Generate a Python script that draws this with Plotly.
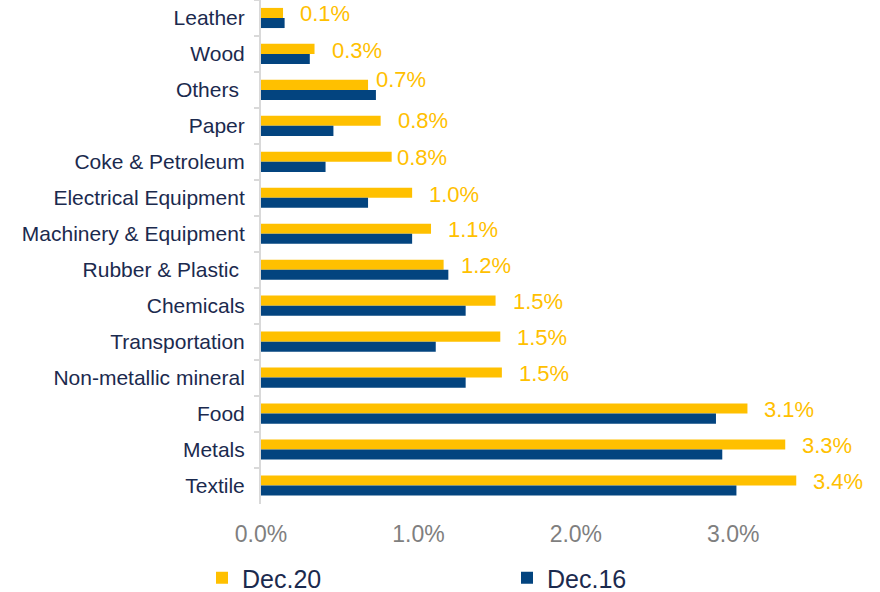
import plotly.graph_objects as go

# Sector shares of total, in percent
categories = [
    "Leather", "Wood", "Others ", "Paper", "Coke & Petroleum",
    "Electrical Equipment", "Machinery & Equipment", "Rubber & Plastic ",
    "Chemicals", "Transportation", "Non-metallic mineral", "Food",
    "Metals", "Textile",
]
dec20 = [0.14, 0.34, 0.68, 0.76, 0.83, 0.96, 1.08, 1.16, 1.49, 1.52, 1.53, 3.09, 3.33, 3.40]
dec16 = [0.15, 0.31, 0.73, 0.46, 0.41, 0.68, 0.96, 1.19, 1.30, 1.11, 1.30, 2.89, 2.93, 3.02]
x_ticks = [0, 1, 2, 3]
series_names = ["Dec.20", "Dec.16"]

# small per-label nudges (px) for the Dec.20 value labels
label_dx = [15, 15, 6, 15, 3, 15, 15, 15, 15, 15, 15, 15, 15, 15]
label_dy = [4, 3, 10, 5, 4, 3, 4, 4, 4, 4, 4, 4, 4, 4]

YELLOW = "#FFC000"
NAVY = "#03447F"
TEXT = "#1B2A4E"
GRAY = "#7F7F7F"
LINE = "#D9D9D9"
FONT = "Liberation Sans, Arial, sans-serif"

fig = go.Figure()
fig.add_trace(go.Bar(
    y=categories, x=[v / 100 for v in dec20], orientation="h",
    name=series_names[0], marker=dict(color=YELLOW, line=dict(width=0)),
    legend="legend",
))
fig.add_trace(go.Bar(
    y=categories, x=[v / 100 for v in dec16], orientation="h",
    name=series_names[1], marker=dict(color=NAVY, line=dict(width=0)),
    legend="legend2",
))

for cat, v, dx, dy in zip(categories, dec20, label_dx, label_dy):
    fig.add_annotation(
        x=v / 100, y=cat, xref="x", yref="y",
        text=f"{v:.1f}%", showarrow=False,
        xanchor="left", yanchor="middle", xshift=dx, yshift=dy,
        font=dict(family=FONT, size=22, color=YELLOW),
    )

legend_style = dict(
    orientation="h", xref="container", yref="container",
    y=14 / 592, xanchor="left", yanchor="middle",
    font=dict(family=FONT, size=25, color=TEXT),
    bgcolor="rgba(0,0,0,0)", borderwidth=0,
)

fig.update_layout(
    width=880, height=592,
    margin=dict(l=261, r=68, t=0, b=88),
    paper_bgcolor="white", plot_bgcolor="white",
    barmode="group", bargap=0.44, bargroupgap=0,
    font=dict(family=FONT, color=TEXT),
    showlegend=True,
    legend=dict(x=202 / 880, **legend_style),
    legend2=dict(x=507 / 880, **legend_style),
    xaxis=dict(
        range=[0, 0.035], tickvals=[t / 100 for t in x_ticks],
        tickformat=".1%", showgrid=False, zeroline=False, showline=False,
        ticks="", ticklabelstandoff=14,
        tickfont=dict(family=FONT, size=23, color=GRAY),
    ),
    yaxis=dict(
        autorange="reversed", type="category",
        showgrid=False, zeroline=False,
        showline=True, linecolor=LINE, linewidth=2,
        ticks="outside", tickson="boundaries", ticklen=5, tickcolor=LINE, tickwidth=1.5,
        ticklabelstandoff=10,
        tickfont=dict(family=FONT, size=21, color=TEXT),
    ),
)

fig.write_html("out.html")
